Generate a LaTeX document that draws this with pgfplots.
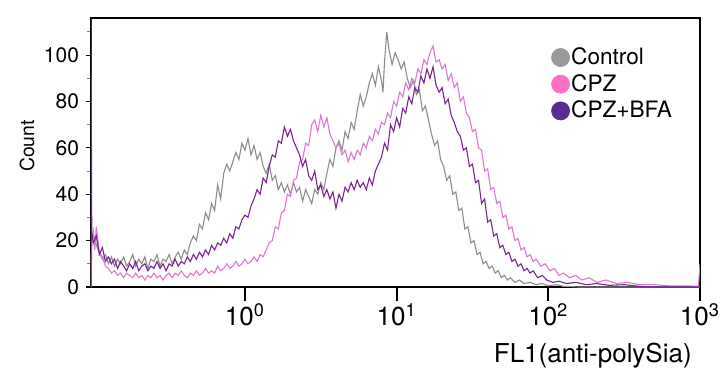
\documentclass[border=0pt]{standalone}
\usepackage{fontspec}
\setmainfont{TeX Gyre Heros}
\usepackage{pgfplots}
\usepackage{pgfplotstable}
\pgfplotsset{compat=1.18}
\definecolor{cgray}{HTML}{8C8C8C}
\definecolor{cpink}{HTML}{DC78CF}
\definecolor{cpurp}{HTML}{7A2494}
\definecolor{lgray}{HTML}{9A9A9E}
\definecolor{lpink}{HTML}{FF70C4}
\definecolor{lpurp}{HTML}{5C2A96}

% x = log10(FL1), y = count
\pgfplotstableread{
x y
-1.015 0
-1.01 19
-1.00 23
-0.98 18
-0.96 15
-0.94 12
-0.92 14
-0.90 10
-0.88 13
-0.86 9
-0.84 12
-0.82 10
-0.80 13
-0.78 9
-0.76 11
-0.74 14
-0.72 9
-0.70 12
-0.68 10
-0.66 13
-0.64 8
-0.62 12
-0.60 11
-0.58 14
-0.56 9
-0.54 12
-0.52 11
-0.50 14
-0.48 10
-0.46 13
-0.44 15
-0.42 12
-0.40 16
-0.38 14
-0.36 19
-0.34 22
-0.32 20
-0.30 27
-0.28 25
-0.26 32
-0.24 29
-0.22 36
-0.20 33
-0.18 44
-0.16 38
-0.14 49
-0.12 53
-0.10 50
-0.08 54
-0.06 58
-0.04 55
-0.02 62
0.00 59
0.02 64
0.04 57
0.06 61
0.08 55
0.10 58
0.12 52
0.14 49
0.16 53
0.18 46
0.20 48
0.22 42
0.24 45
0.26 41
0.28 44
0.30 40
0.32 45
0.34 41
0.36 43
0.38 37
0.40 42
0.42 39
0.44 36
0.46 42
0.48 40
0.50 45
0.52 42
0.54 49
0.56 55
0.58 52
0.60 60
0.62 63
0.64 59
0.66 67
0.68 64
0.70 71
0.72 68
0.74 76
0.76 83
0.78 78
0.80 82
0.82 88
0.84 92
0.86 87
0.88 95
0.90 89
0.91 84
0.92 97
0.935 110
0.95 102
0.97 96
0.99 101
1.01 98
1.03 94
1.05 97
1.07 90
1.09 86
1.11 89
1.13 83
1.15 85
1.17 76
1.19 78
1.21 72
1.23 66
1.25 61
1.27 63
1.29 55
1.31 52
1.33 46
1.35 48
1.37 40
1.39 41
1.41 33
1.43 34
1.45 25
1.47 26
1.49 19
1.51 20
1.53 14
1.55 15
1.57 10
1.59 11
1.61 8
1.63 9
1.65 6
1.67 7
1.69 4
1.71 5
1.73 3
1.75 4
1.78 2
1.81 3
1.84 1.5
1.88 2
1.92 1
1.96 1.5
2.00 0.5
2.05 1
2.10 0.3
2.20 0
3.00 0
}\control

\pgfplotstableread{
x y
-1.015 0
-1.015 116
-1.01 24
-1.00 19
-0.98 22
-0.96 14
-0.94 17
-0.92 11
-0.90 13
-0.88 10
-0.86 12
-0.84 8
-0.82 11
-0.80 9
-0.78 7
-0.76 10
-0.74 8
-0.72 11
-0.70 7
-0.68 9
-0.66 10
-0.64 7
-0.62 9
-0.60 8
-0.58 11
-0.56 8
-0.54 10
-0.52 7
-0.50 10
-0.48 9
-0.46 12
-0.44 9
-0.42 11
-0.40 10
-0.38 13
-0.36 11
-0.34 14
-0.32 12
-0.30 15
-0.28 13
-0.26 16
-0.24 14
-0.22 18
-0.20 16
-0.18 19
-0.16 18
-0.14 21
-0.12 19
-0.10 23
-0.08 21
-0.06 26
-0.04 25
-0.02 29
0.00 31
0.02 30
0.04 35
0.06 38
0.08 42
0.10 40
0.12 47
0.14 45
0.16 52
0.18 57
0.20 56
0.22 63
0.24 62
0.26 69
0.28 65
0.30 68
0.32 63
0.34 60
0.36 57
0.38 52
0.40 55
0.42 48
0.44 46
0.46 50
0.48 42
0.50 44
0.52 39
0.54 42
0.56 38
0.58 41
0.60 34
0.62 40
0.64 37
0.66 43
0.68 41
0.70 45
0.72 42
0.74 46
0.76 43
0.78 45
0.80 42
0.82 47
0.84 44
0.86 50
0.88 53
0.90 56
0.92 62
0.94 59
0.96 70
0.98 67
1.00 73
1.02 69
1.04 77
1.06 75
1.08 82
1.10 79
1.12 86
1.14 84
1.16 91
1.18 88
1.20 94
1.22 90
1.24 95
1.26 87
1.28 84
1.30 86
1.32 79
1.34 81
1.36 74
1.38 71
1.40 67
1.42 65
1.44 59
1.46 60
1.48 52
1.50 53
1.52 45
1.54 46
1.56 36
1.58 38
1.60 28
1.62 29
1.64 22
1.66 23
1.68 17
1.70 18
1.72 14
1.74 15
1.76 11
1.78 12
1.80 9
1.82 10
1.84 7
1.86 8
1.88 6
1.90 7
1.93 4
1.96 5
1.99 3
2.03 2
2.07 2.5
2.12 1.5
2.18 2
2.25 1
2.32 1.5
2.40 0.7
2.50 1
2.60 0.3
2.70 0
3.00 0
}\cpzbfa

\pgfplotstableread{
x y
-1.015 0
-1.01 20
-1.00 24
-0.99 16
-0.98 26
-0.96 15
-0.94 13
-0.92 9
-0.90 8
-0.88 6
-0.86 7
-0.84 5
-0.82 6
-0.80 4
-0.78 6
-0.76 5
-0.74 4
-0.72 6
-0.70 4
-0.68 5
-0.66 3
-0.64 5
-0.62 4
-0.60 6
-0.58 4
-0.56 5
-0.54 3
-0.52 5
-0.50 6
-0.48 4
-0.46 6
-0.44 5
-0.42 7
-0.40 5
-0.38 4
-0.36 6
-0.34 5
-0.32 7
-0.30 5
-0.28 6
-0.26 8
-0.24 6
-0.22 7
-0.20 6
-0.18 9
-0.16 7
-0.14 8
-0.12 10
-0.10 8
-0.08 9
-0.06 11
-0.04 9
-0.02 10
0.00 12
0.02 10
0.04 11
0.06 13
0.08 11
0.10 14
0.12 13
0.14 16
0.16 19
0.18 20
0.20 26
0.22 25
0.24 32
0.26 33
0.28 40
0.30 39
0.32 46
0.34 47
0.36 54
0.38 55
0.40 62
0.42 61
0.44 70
0.46 72
0.48 67
0.50 74
0.52 69
0.54 73
0.56 66
0.58 63
0.60 60
0.62 62
0.64 57
0.66 59
0.68 54
0.70 58
0.72 55
0.74 59
0.76 57
0.78 62
0.80 60
0.82 65
0.84 63
0.86 68
0.88 66
0.90 71
0.92 70
0.94 75
0.96 73
0.98 80
1.00 78
1.02 84
1.04 82
1.06 88
1.08 85
1.10 90
1.12 88
1.14 94
1.16 92
1.18 98
1.20 96
1.22 101
1.24 104
1.26 97
1.28 98
1.30 94
1.32 96
1.34 89
1.36 92
1.38 86
1.40 88
1.42 80
1.44 82
1.46 75
1.48 73
1.50 67
1.52 68
1.54 60
1.56 59
1.58 50
1.60 51
1.62 42
1.64 43
1.66 36
1.68 37
1.70 30
1.72 31
1.74 25
1.76 26
1.78 20
1.80 21
1.82 16
1.84 17
1.86 13
1.88 14
1.90 11
1.92 12
1.95 9
1.98 10
2.01 7
2.04 8
2.07 5
2.10 6
2.14 4
2.18 5
2.22 3
2.27 4
2.32 2
2.38 3
2.45 1.5
2.52 2
2.60 1
2.70 1
2.80 0.5
2.90 0.5
2.99 0.3
3.00 10
}\cpz

\pgfplotsset{
  frame/.style={
    at={(0,0)}, anchor=south west,
    scale only axis,
    width=304.5pt, height=134.5pt,
    xmin=-1.015, xmax=3, ymin=0, ymax=116,
    axis line style={line width=1pt},
    tick align=outside,
  }
}

\begin{document}
\begin{tikzpicture}
% axis carrying the x ticks (long marks)
\begin{axis}[
  frame,
  major tick length=7pt,
  xtick={0,1,2,3},
  xticklabels={10\textsuperscript{0},10\textsuperscript{1},10\textsuperscript{2},10\textsuperscript{3}},
  xtick style={line width=0.9pt, black},
  xticklabel style={font=\fontsize{13}{15}\selectfont, yshift=2pt},
  ytick=\empty,
  xtick pos=bottom,
  xlabel={FL1(anti-polySia)},
  xlabel style={at={(axis description cs:0.987,-0.279)}, anchor=base east, font=\fontsize{13}{15}\selectfont, inner sep=0pt},
]
\end{axis}
% axis carrying the y ticks and the data
\begin{axis}[
  frame,
  major tick length=2.5pt,
  minor tick length=1.8pt,
  xtick=\empty,
  ytick={0,20,...,100},
  minor ytick={10,30,...,110},
  ytick style={line width=0.6pt, black},
  minor y tick style={line width=0.5pt, gray},
  yticklabel style={font=\fontsize{10.5}{12}\selectfont},
  /pgf/number format/assume math mode=true,
  ytick pos=left,
  ylabel={Count},
  ylabel style={at={(axis description cs:-0.105,0.524)}, anchor=center, font=\fontsize{9.7}{11}\selectfont, inner sep=0pt},
  legend style={draw=none, fill=none, at={(rel axis cs:0.755,0.896)}, anchor=north west,
    font=\fontsize{11.3}{13}\selectfont, inner sep=0pt, row sep=2.2pt,
    nodes={inner sep=0.6pt}},
  legend cell align=left,
]
\addplot[cgray, line width=0.55pt, forget plot] table[x=x,y=y] {\control};
\addplot[cpink, line width=0.55pt, forget plot] table[x=x,y=y] {\cpz};
\addplot[cpurp, line width=0.55pt, forget plot] table[x=x,y=y] {\cpzbfa};
\addlegendimage{legend image code/.code={\fill[lgray] (4.5pt,0pt) circle (4.5pt);}}
\addlegendentry{Control}
\addlegendimage{legend image code/.code={\fill[lpink] (4.5pt,0pt) circle (4.5pt);}}
\addlegendentry{CPZ}
\addlegendimage{legend image code/.code={\fill[lpurp] (4.5pt,0pt) circle (4.5pt);}}
\addlegendentry{CPZ+BFA}
\end{axis}
\pgfresetboundingbox
\path (-45.5pt,-42pt) rectangle (314.5pt,143.5pt);
\end{tikzpicture}
\end{document}
